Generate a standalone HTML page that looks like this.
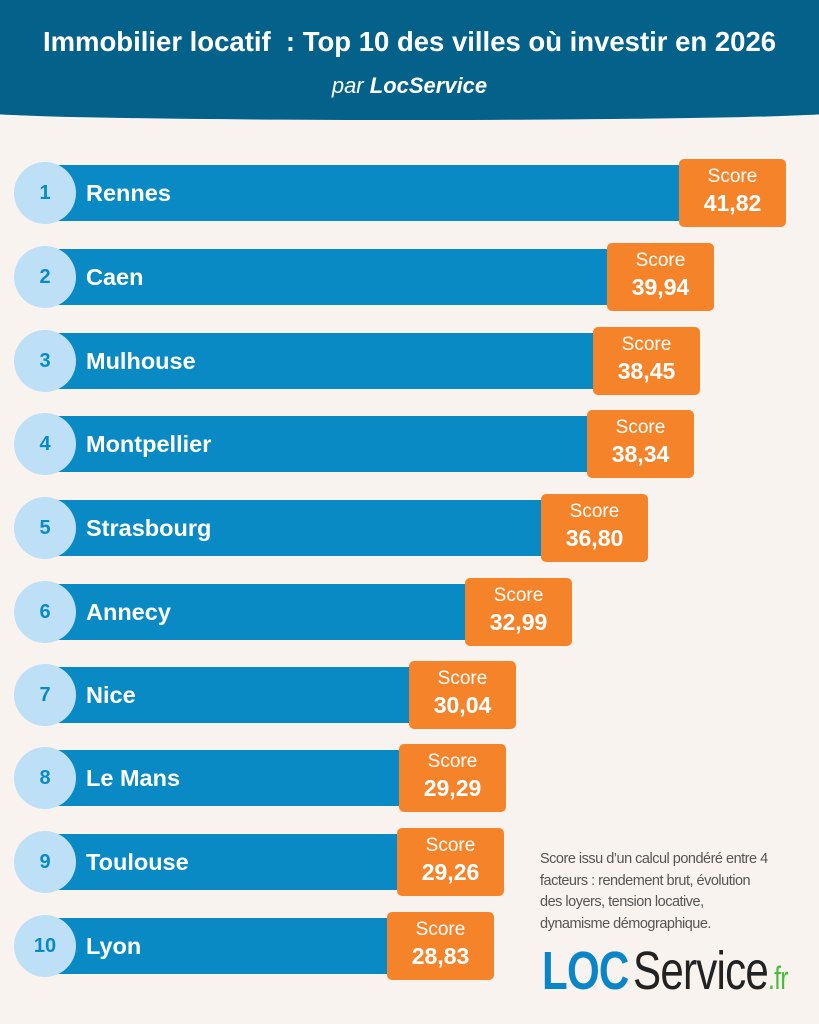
<!DOCTYPE html>
<html><head><meta charset="utf-8"><style>
body{margin:0;width:819px;height:1024px;background:#f8f3ef;font-family:"Liberation Sans",sans-serif;position:relative;overflow:hidden}
.hdr{position:absolute;left:-20px;top:-40px;width:859px;height:160px;background:#04618a;border-radius:0 0 50% 50%/0 0 8px 8px}
.t{position:absolute;left:0;width:819px;text-align:center;color:#fff;white-space:nowrap}
.bar{position:absolute;left:40px;height:56px;background:#0a8ac4}
.c{position:absolute;left:14px;width:62px;height:62px;border-radius:50%;background:#bde0f7;color:#0a8ac4;font-weight:bold;font-size:20px;text-align:center;line-height:62px}
.n{position:absolute;left:86px;color:#fff;font-weight:bold;font-size:23.5px;line-height:30px}
.s{position:absolute;width:107px;height:68px;background:#f5832a;border-radius:5px;color:#fff;text-align:center}
.s .a{font-size:19px;margin-top:7px;line-height:22px}
.s .b{font-size:23px;font-weight:bold;line-height:30px}
</style></head><body>
<div class="hdr"></div>
<div class="t" style="top:26px;font-size:27.5px;font-weight:bold">Immobilier locatif&nbsp; : Top 10 des villes où investir en 2026</div>
<div class="t" style="top:73px;font-size:22px;font-style:italic">par <b>LocService</b></div>

<div class="bar" style="top:165px;width:650px"></div><div class="c" style="top:162px">1</div><div class="n" style="top:178px">Rennes</div><div class="s" style="left:679px;top:159px"><div class="a">Score</div><div class="b">41,82</div></div>
<div class="bar" style="top:249px;width:578px"></div><div class="c" style="top:246px">2</div><div class="n" style="top:262px">Caen</div><div class="s" style="left:607px;top:243px"><div class="a">Score</div><div class="b">39,94</div></div>
<div class="bar" style="top:333px;width:564px"></div><div class="c" style="top:330px">3</div><div class="n" style="top:346px">Mulhouse</div><div class="s" style="left:593px;top:327px"><div class="a">Score</div><div class="b">38,45</div></div>
<div class="bar" style="top:416px;width:558px"></div><div class="c" style="top:413px">4</div><div class="n" style="top:429px">Montpellier</div><div class="s" style="left:587px;top:410px"><div class="a">Score</div><div class="b">38,34</div></div>
<div class="bar" style="top:500px;width:512px"></div><div class="c" style="top:497px">5</div><div class="n" style="top:513px">Strasbourg</div><div class="s" style="left:541px;top:494px"><div class="a">Score</div><div class="b">36,80</div></div>
<div class="bar" style="top:584px;width:436px"></div><div class="c" style="top:581px">6</div><div class="n" style="top:597px">Annecy</div><div class="s" style="left:465px;top:578px"><div class="a">Score</div><div class="b">32,99</div></div>
<div class="bar" style="top:667px;width:380px"></div><div class="c" style="top:664px">7</div><div class="n" style="top:680px">Nice</div><div class="s" style="left:409px;top:661px"><div class="a">Score</div><div class="b">30,04</div></div>
<div class="bar" style="top:750px;width:370px"></div><div class="c" style="top:747px">8</div><div class="n" style="top:763px">Le Mans</div><div class="s" style="left:399px;top:744px"><div class="a">Score</div><div class="b">29,29</div></div>
<div class="bar" style="top:834px;width:368px"></div><div class="c" style="top:831px">9</div><div class="n" style="top:847px">Toulouse</div><div class="s" style="left:397px;top:828px"><div class="a">Score</div><div class="b">29,26</div></div>
<div class="bar" style="top:918px;width:358px"></div><div class="c" style="top:915px">10</div><div class="n" style="top:931px">Lyon</div><div class="s" style="left:387px;top:912px"><div class="a">Score</div><div class="b">28,83</div></div>

<div style="position:absolute;left:540px;top:849px;font-size:14.5px;line-height:21.5px;color:#555;letter-spacing:-0.5px;white-space:nowrap">Score issu d’un calcul pondéré entre 4<br>facteurs : rendement brut, évolution<br>des loyers, tension locative,<br>dynamisme démographique.</div>
<div style="position:absolute;left:542px;top:944px;font-size:54px;line-height:54px;white-space:nowrap;letter-spacing:-1px"><span style="color:#0a86c8;font-weight:bold;transform:scaleX(0.78);display:inline-block;transform-origin:left;margin-right:-20px">LOC</span><span style="color:#222;transform:scaleX(0.78);display:inline-block;transform-origin:left">Service<span style="color:#4cbb3a;font-size:32px">.fr</span></span></div>
</body></html>
